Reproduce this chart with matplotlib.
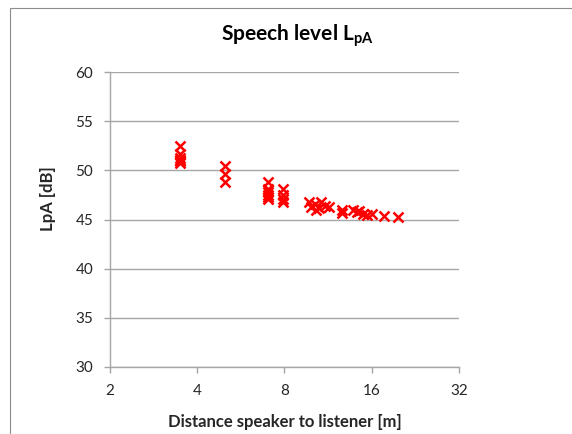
import matplotlib
matplotlib.use("Agg")
import matplotlib.pyplot as plt
from matplotlib.patches import Rectangle
from matplotlib.ticker import FixedLocator, FixedFormatter, NullLocator

RED = "#FF0000"
GRID = "#A6A6A6"
TEXT = "#262626"

# distance [m] and level [dB]
distance = [3.5, 3.5, 3.5, 3.5, 3.5, 3.5,
            5.0, 5.0, 5.0,
            7.0, 7.0, 7.0, 7.0, 7.0, 7.0,
            7.9, 7.9, 7.9, 7.9,
            9.7, 9.9, 10.2, 10.5, 10.7, 11.0, 11.4, 10.3,
            12.6, 12.6,
            13.8, 14.2, 14.5, 14.9, 15.4, 16.0,
            17.6, 19.7]
level = [52.5, 51.7, 51.3, 51.0, 50.7, 50.9,
         50.4, 49.6, 48.8,
         48.8, 48.1, 47.8, 47.5, 47.3, 47.1,
         48.1, 47.5, 47.1, 46.8,
         46.8, 46.3, 46.6, 46.2, 46.8, 46.4, 46.3, 46.0,
         46.0, 45.7,
         46.0, 45.8, 45.9, 45.6, 45.5, 45.6,
         45.4, 45.3]

x_ticks = [2, 4, 8, 16, 32]
y_ticks = [30, 35, 40, 45, 50, 55, 60]

plt.rcParams["font.family"] = ["Lato", "DejaVu Sans"]
plt.rcParams["mathtext.fontset"] = "custom"
plt.rcParams["mathtext.rm"] = "Lato"
plt.rcParams["mathtext.bf"] = "Lato:bold"

fig = plt.figure(figsize=(5.72, 4.34), dpi=100)
fig.patch.set_facecolor("white")
fig.patches.append(Rectangle((10 / 572, -0.1), 1.2, 1.1 - 8 / 434,
                             transform=fig.transFigure, fill=False,
                             edgecolor="#8C8C8C", lw=0.8))

ax = fig.add_axes([110 / 572, 1 - 367 / 434, 349 / 572, 295 / 434])
ax.plot(distance, level, linestyle="none", marker="x", color=RED,
        ms=6.5, mew=1.8)

ax.set_xscale("log", base=2)
ax.set_xlim(2, 32)
ax.set_ylim(30, 60)
ax.xaxis.set_major_locator(FixedLocator(x_ticks))
ax.xaxis.set_major_formatter(FixedFormatter([str(t) for t in x_ticks]))
ax.xaxis.set_minor_locator(NullLocator())
ax.set_yticks(y_ticks)

ax.grid(axis="y", color=GRID, lw=1)
ax.set_axisbelow(True)
for side in ["top", "right"]:
    ax.spines[side].set_visible(False)
for side in ["left", "bottom"]:
    ax.spines[side].set_color(GRID)
    ax.spines[side].set_linewidth(1)
ax.tick_params(colors=GRID, labelcolor=TEXT, labelsize=11, length=4,
               width=1, direction="out")
ax.tick_params(axis="x", pad=8)
ax.tick_params(axis="y", pad=8)

fig.text(285 / 572, 1 - 427 / 434, "Distance speaker to listener [m]",
         ha="center", va="baseline", fontsize=12, fontweight="bold",
         color=TEXT)
fig.text(48 / 572, 1 - 199 / 434, "LpA [dB]", rotation=90,
         ha="center", va="center", fontsize=12, fontweight="bold",
         color=TEXT)

fig.text(297 / 572, 1 - 40 / 434, r"Speech level L$_{\mathbf{pA}}$",
         ha="center", va="baseline", fontsize=15, fontweight="bold",
         color="black")

fig.savefig("out.png", dpi=100, facecolor="white")
